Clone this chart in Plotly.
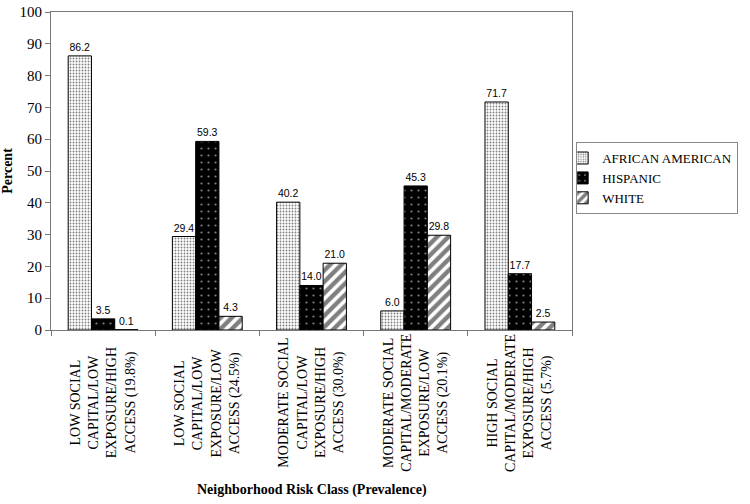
import plotly.graph_objects as go

categories = [
    "LOW SOCIAL<br>CAPITAL/LOW<br>EXPOSURE/HIGH<br>ACCESS (19.8%)",
    "LOW SOCIAL<br>CAPITAL/LOW<br>EXPOSURE/LOW<br>ACCESS (24.5%)",
    "MODERATE SOCIAL<br>CAPITAL/LOW<br>EXPOSURE/HIGH<br>ACCESS (30.0%)",
    "MODERATE SOCIAL<br>CAPITAL/MODERATE<br>EXPOSURE/LOW<br>ACCESS (20.1%)",
    "HIGH SOCIAL<br>CAPITAL/MODERATE<br>EXPOSURE/HIGH<br>ACCESS (5.7%)",
]
cat_ids = ["c1", "c2", "c3", "c4", "c5"]
african_american = [86.2, 29.4, 40.2, 6.0, 71.7]
hispanic = [3.5, 59.3, 14.0, 45.3, 17.7]
white = [0.1, 4.3, 21.0, 29.8, 2.5]
y_ticks = list(range(0, 101, 10))

serif = "Liberation Serif"
sans = "Liberation Sans"

fig = go.Figure()
series = [
    ("AFRICAN AMERICAN", african_american,
     dict(shape=".", bgcolor="white", fgcolor="black", size=3, solidity=0.3)),
    ("HISPANIC", hispanic,
     dict(shape=".", bgcolor="black", fgcolor="white", size=7, solidity=0.08)),
    ("WHITE", white,
     dict(shape="/", bgcolor="white", fgcolor="black", size=8, solidity=0.55)),
]
for name, vals, pat in series:
    fig.add_trace(go.Bar(
        name=name, x=cat_ids, y=vals,
        marker=dict(color="white", pattern=pat, line=dict(color="black", width=1)),
        texttemplate="%{y:.1f}", textposition="outside",
        textfont=dict(family=sans, size=10.5, color="black"),
        cliponaxis=False,
    ))

for cid, lab in zip(cat_ids, categories):
    fig.add_annotation(
        x=cid, xref="x", y=-0.23, yref="paper", text=lab, textangle=-90,
        showarrow=False, align="center", xanchor="center", yanchor="middle",
        font=dict(family=serif, size=14, color="black"),
    )

fig.add_annotation(
    text="<b>Neighborhood Risk Class (Prevalence)</b>", x=0.5, xref="paper",
    y=-0.503, yref="paper", showarrow=False, xanchor="center", yanchor="middle",
    font=dict(family=serif, size=14, color="black"),
)

fig.update_layout(
    width=750, height=504,
    margin=dict(l=51, r=168, t=12, b=174),
    paper_bgcolor="white", plot_bgcolor="white",
    barmode="group", bargap=0.33, bargroupgap=0,
    showlegend=True,
    legend=dict(
        x=1.008, y=0.591, xanchor="left", yanchor="top",
        font=dict(family=serif, size=13, color="black"),
        bordercolor="#888888", borderwidth=1, bgcolor="white",
        itemwidth=30, tracegroupgap=0, indentation=-15,
    ),
    xaxis=dict(
        showticklabels=False, tickson="boundaries", ticks="outside", ticklen=5,
        tickcolor="#777777", showline=True, linecolor="#777777", mirror=True,
        showgrid=False, automargin=False,
    ),
    yaxis=dict(
        range=[0, 100], tickvals=y_ticks, ticks="outside", ticklen=5,
        tickcolor="#777777", showline=True, linecolor="#777777", mirror=True,
        showgrid=False, zeroline=False, automargin=False,
        ticklabeloverflow="allow",
        tickfont=dict(family=serif, size=15, color="black"),
        title=dict(text="<b>Percent</b>", font=dict(family=serif, size=14, color="black"),
                   standoff=10),
    ),
)

fig.write_html("out.html", config={"displayModeBar": False},
               post_script="document.body.style.margin='0';")
